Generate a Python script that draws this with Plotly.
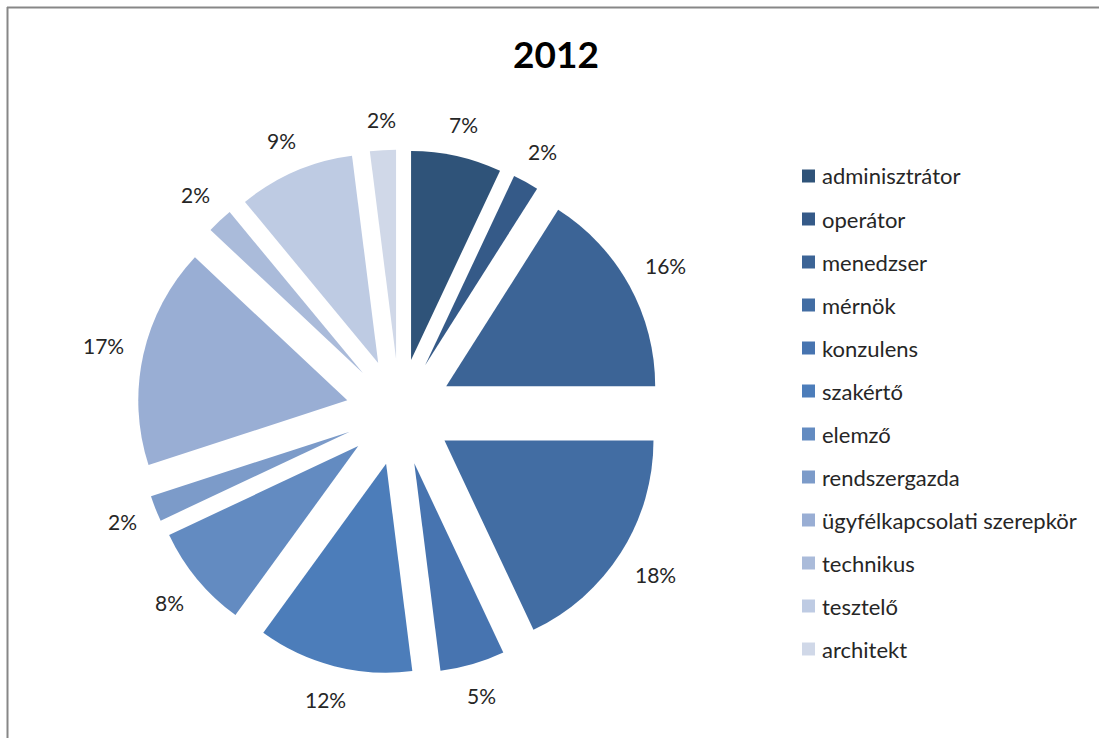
import math
import plotly.graph_objects as go

categories = ["adminisztrátor", "operátor", "menedzser", "mérnök", "konzulens", "szakértő",
              "elemző", "rendszergazda", "ügyfélkapcsolati szerepkör", "technikus",
              "tesztelő", "architekt"]
values = [7, 2, 16, 18, 5, 12, 8, 2, 17, 2, 9, 2]
colors = ["#2F5379", "#355A88", "#3C6496", "#426DA3", "#4774B0", "#4C7DBA",
          "#638BC1", "#7C9BC9", "#99AED4", "#AABBDA", "#BECBE3", "#D0D8E8"]
title_text = "2012"

W, H = 1099, 738
cx, cy = 399.4, 412.0
radius = 209.0
pull = 0.2555
ext = radius * (1 + pull)
label_font = 21

fig = go.Figure()
fig.add_trace(go.Pie(
    labels=categories,
    values=values,
    sort=False,
    direction="clockwise",
    rotation=0,
    pull=pull,
    marker=dict(colors=colors, line=dict(width=0)),
    textinfo="none",
    showlegend=False,
    domain=dict(x=[(cx - ext) / W, (cx + ext) / W],
                y=[1 - (cy + ext) / H, 1 - (cy - ext) / H]),
    hoverinfo="label+percent",
))

annotations = [dict(text="<b>%s</b>" % title_text, x=556 / W, y=1 - 53.5 / H,
                    xref="paper", yref="paper", xanchor="center", yanchor="middle",
                    showarrow=False, font=dict(family="Lato", size=37, color="#000000"))]

# percentage labels outside each slice, positioned from the data (cumulative share -> mid angle)
total = float(sum(values))
cum = 0.0
for v in values:
    mid = (cum + v / 2.0) / total * 2 * math.pi
    cum += v
    txt = "%d%%" % round(100 * v / total)
    tw = 13.3 * len(txt)
    th = 22
    s, c = math.sin(mid), math.cos(mid)
    rr = radius * (1 + pull) + 18.5 + abs(s) * tw / 2 + abs(c) * th / 2
    px, py = cx + rr * s, cy - rr * c
    annotations.append(dict(text=txt, x=px / W, y=1 - py / H, xref="paper", yref="paper",
                            xanchor="center", yanchor="middle", showarrow=False,
                            font=dict(family="Lato", size=label_font, color="#262626")))

shapes = [
    dict(type="line", xref="paper", yref="paper", x0=7 / W, x1=1, y0=1 - 7.5 / H, y1=1 - 7.5 / H,
         line=dict(color="#878787", width=2)),
    dict(type="line", xref="paper", yref="paper", x0=7.5 / W, x1=7.5 / W, y0=0, y1=1 - 7 / H,
         line=dict(color="#878787", width=2)),
]

y_start, y_step = 176, 43.0
for i, (lab, col) in enumerate(zip(categories, colors)):
    yc = y_start + i * y_step
    shapes.append(dict(type="rect", xref="paper", yref="paper",
                       x0=802 / W, x1=815 / W, y0=1 - (yc + 6.5) / H, y1=1 - (yc - 6.5) / H,
                       line=dict(width=0), fillcolor=col))
    annotations.append(dict(text=lab, x=820 / W, y=1 - yc / H, xref="paper", yref="paper",
                            xanchor="left", yanchor="middle", showarrow=False,
                            font=dict(family="Lato", size=22, color="#262626")))

fig.update_layout(
    width=W, height=H,
    margin=dict(l=0, r=0, t=0, b=0, autoexpand=False),
    paper_bgcolor="white",
    plot_bgcolor="white",
    annotations=annotations,
    shapes=shapes,
)

fig.write_html("out.html")
